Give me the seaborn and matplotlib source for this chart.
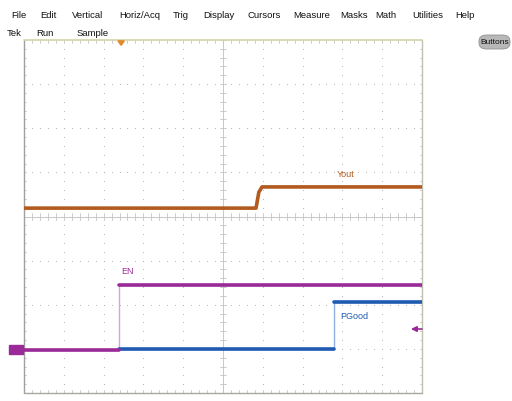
import numpy as np
import pandas as pd
import matplotlib
matplotlib.use("Agg")
import matplotlib.pyplot as plt
import seaborn as sns
from matplotlib.patches import FancyBboxPatch, Rectangle, Polygon

sns.set_theme(style="white")
plt.rcParams['font.family'] = ['Liberation Sans', 'DejaVu Sans']

# ---- data (in screen divisions: x 0..10, y 0..8) ----
menu_items = ["File", "Edit", "Vertical", "Horiz/Acq", "Trig", "Display",
              "Cursors", "Measure", "Masks", "Math", "Utilities", "Help"]
menu_x = [11, 40, 72, 119, 173, 203, 248, 293, 340, 375, 412, 455]
status_items = ["Tek", "Run", "Sample"]
status_x = [7, 36, 77]

yout_t = [0.0, 5.83, 5.90, 5.98, 10.0]
yout_v = [4.19, 4.19, 4.55, 4.67, 4.67]

en_t = [0.0, 2.39, 2.39, 10.0]
en_v = [0.975, 0.975, 2.45, 2.45]

pg_t = [2.39, 7.79, 7.79, 10.0]
pg_v = [1.0, 1.0, 2.06, 2.06]

labels = {"Yout": (7.85, 4.95), "EN": (2.45, 2.75), "PGood": (7.95, 1.74)}

W, H = 512, 401
fig = plt.figure(figsize=(W / 100, H / 100), dpi=100)
fig.patch.set_facecolor("white")

x0, x1, y0, y1 = 24, 422, 40, 393
ax = fig.add_axes([x0 / W, 1 - y1 / H, (x1 - x0) / W, (y1 - y0) / H])
ax.set_xlim(0, 10)
ax.set_ylim(0, 8)
ax.set_facecolor("white")
for s in ax.spines.values():
    s.set_visible(False)
ax.set_xticks([])
ax.set_yticks([])

gcol = "#b0b0b0"
tcol = "#c4c4c4"
# grid dots
for gx in range(1, 10):
    ys = np.arange(0, 8.01, 0.2)
    ax.scatter([gx] * len(ys), ys, s=0.6, color=gcol, linewidths=0, zorder=1)
for gy in range(1, 8):
    xs = np.arange(0, 10.01, 0.2)
    ax.scatter(xs, [gy] * len(xs), s=0.6, color=gcol, linewidths=0, zorder=1)
# center lines with ticks
ax.plot([5, 5], [0, 8], color="#c8c8c8", lw=0.7, zorder=1)
ax.plot([0, 10], [4, 4], color="#c8c8c8", lw=0.7, zorder=1)
for xt in np.arange(0, 10.01, 0.2):
    ax.plot([xt, xt], [3.93, 4.07], color=tcol, lw=0.6, zorder=1)
    ax.plot([xt, xt], [0, 0.07], color=tcol, lw=0.6, zorder=1)
    ax.plot([xt, xt], [7.93, 8], color=tcol, lw=0.6, zorder=1)
for yt in np.arange(0, 8.01, 0.2):
    ax.plot([4.93, 5.07], [yt, yt], color=tcol, lw=0.6, zorder=1)
    ax.plot([0, 0.05], [yt, yt], color=tcol, lw=0.6, zorder=1)
    ax.plot([9.95, 10], [yt, yt], color=tcol, lw=0.6, zorder=1)
# border
ax.plot([0, 0], [0, 8], color="#a0a0a0", lw=1.0, zorder=2, clip_on=False)
ax.plot([10, 10], [0, 8], color="#c0c0b0", lw=1.0, zorder=2, clip_on=False)
ax.plot([0, 10], [0, 0], color="#a8a8a0", lw=1.0, zorder=2, clip_on=False)
ax.plot([0, 10], [8, 8], color="#d4d4a8", lw=1.2, zorder=2, clip_on=False)

c_yout = "#b35a1f"
c_en = "#9a2a98"
c_pg = "#1f5bb0"

df_y = pd.DataFrame({"t": yout_t, "v": yout_v})
sns.lineplot(data=df_y, x="t", y="v", color=c_yout, lw=2.6, sort=False,
             estimator=None, ax=ax, zorder=4)

df_pg = pd.DataFrame({"t": pg_t, "v": pg_v})
sns.lineplot(data=df_pg, x="t", y="v", color="#8fb0dc", lw=1.0, sort=False,
             estimator=None, ax=ax, zorder=3)
sns.lineplot(x=pg_t[:2], y=pg_v[:2], color=c_pg, lw=2.6, estimator=None, ax=ax, zorder=4)
sns.lineplot(x=pg_t[2:], y=pg_v[2:], color=c_pg, lw=2.6, estimator=None, ax=ax, zorder=4)

df_en = pd.DataFrame({"t": en_t, "v": en_v})
sns.lineplot(data=df_en, x="t", y="v", color="#d2a8d2", lw=1.0, sort=False,
             estimator=None, ax=ax, zorder=3)
sns.lineplot(x=en_t[:2], y=en_v[:2], color=c_en, lw=2.6, estimator=None, ax=ax, zorder=5)
sns.lineplot(x=en_t[2:], y=en_v[2:], color=c_en, lw=2.6, estimator=None, ax=ax, zorder=5)

ax.set_xlabel("")
ax.set_ylabel("")

ax.text(*labels["Yout"], "Yout", color=c_yout, fontsize=6.5, ha="left", va="center")
ax.text(*labels["EN"], "EN", color=c_en, fontsize=6.5, ha="left", va="center")
ax.text(*labels["PGood"], "PGood", color=c_pg, fontsize=6.5, ha="left", va="center")

# trigger marker (top) and level arrow (right)
ax.add_patch(Polygon([[2.36, 7.98], [2.52, 7.98], [2.44, 7.88]], closed=True,
                     color="#e08a2a", clip_on=False, zorder=6))
ax.annotate("", xy=(9.72, 1.45), xytext=(10.0, 1.45),
            arrowprops=dict(arrowstyle="-|>", color=c_en, lw=1.2, mutation_scale=8,
                            shrinkA=0, shrinkB=0),
            zorder=6)

# channel marker on the left
fig.patches.append(Rectangle((9 / W, 1 - 354 / H), 14 / W, 9 / H,
                             transform=fig.transFigure, color=c_en, zorder=6))
fig.text(15 / W, 1 - 349.5 / H, "1", color="#dcc0dc", fontsize=4.5, ha="center", va="center")

# menu bar
for name, xp in zip(menu_items, menu_x):
    fig.text(xp / W, 1 - 16 / H, name, fontsize=6.8, color="#101010", ha="left", va="center")
for name, xp in zip(status_items, status_x):
    fig.text(xp / W, 1 - 34 / H, name, fontsize=6.8, color="#101010", ha="left", va="center")

# Buttons pill
fig.patches.append(FancyBboxPatch((479 / W, 1 - 49 / H), 31 / W, 14 / H,
                                  boxstyle="round,pad=0,rounding_size=0.015",
                                  transform=fig.transFigure, facecolor="#b8b8b8",
                                  edgecolor="#909090", lw=0.6))
fig.text(494.5 / W, 1 - 42 / H, "Buttons", fontsize=6.0, color="#101010", ha="center", va="center")

fig.savefig("out.png", dpi=100, facecolor="white")
